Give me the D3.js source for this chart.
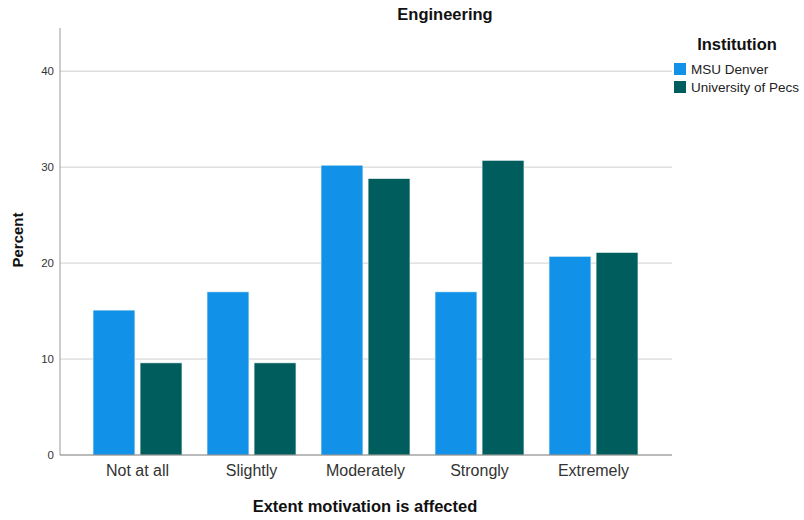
<!DOCTYPE html>
<html>
<head>
<meta charset="utf-8">
<script src="https://cdn.jsdelivr.net/npm/d3@7"></script>
<style>
  body { margin: 0; background: #fff; }
  svg { font-family: Arial, "Liberation Sans", sans-serif; }
</style>
</head>
<body>
<svg id="chart" width="804" height="520"></svg>
<script>
const categories = ["Not at all", "Slightly", "Moderately", "Strongly", "Extremely"];
const seriesNames = ["MSU Denver", "University of Pecs"];
const msuDenver = [15.1, 17.0, 30.2, 17.0, 20.7];
const univPecs = [9.6, 9.6, 28.8, 30.7, 21.1];
const yTicks = [0, 10, 20, 30, 40];
const colors = ["#1192e8", "#005d5d"];

const svg = d3.select("#chart");
const plotLeft = 60, plotRight = 672, plotTop = 28, plotBottom = 455;

const y = d3.scaleLinear().domain([0, 44.5]).range([plotBottom, plotTop]);
const x0 = d3.scaleBand().domain(categories).range([80.5, 650.5]).paddingInner(0.22).paddingOuter(0.11);
const x1 = d3.scaleBand().domain(seriesNames).range([0, x0.bandwidth()]).paddingInner(0.11);

// gridlines
svg.append("g").selectAll("line").data(yTicks.filter(d => d > 0)).join("line")
  .attr("x1", plotLeft).attr("x2", plotRight)
  .attr("y1", d => y(d)).attr("y2", d => y(d))
  .attr("stroke", "#cfcfcf").attr("stroke-width", 1);

// bars
const rows = categories.map((c, i) => ({ cat: c, vals: [msuDenver[i], univPecs[i]] }));
const groups = svg.append("g").selectAll("g").data(rows).join("g")
  .attr("transform", d => `translate(${x0(d.cat)},0)`);
groups.selectAll("rect").data(d => d.vals.map((v, j) => ({ name: seriesNames[j], v, j }))).join("rect")
  .attr("x", d => x1(d.name))
  .attr("width", x1.bandwidth())
  .attr("y", d => y(d.v))
  .attr("height", d => y(0) - y(d.v))
  .attr("fill", d => colors[d.j])
  .attr("stroke", "#e8f0f0").attr("stroke-width", 0.6);

// y axis
const yAxis = d3.axisLeft(y).tickValues(yTicks).tickSize(0).tickPadding(6);
const gy = svg.append("g").attr("transform", `translate(${plotLeft},0)`).call(yAxis);
gy.select(".domain").remove();
gy.selectAll("text").attr("font-size", 11.5).attr("fill", "#333")
  .attr("font-family", "Arial, 'Liberation Sans', sans-serif");
svg.append("line").attr("x1", plotLeft).attr("x2", plotLeft)
  .attr("y1", plotTop).attr("y2", plotBottom).attr("stroke", "#999");

// x axis
const xAxis = d3.axisBottom(x0).tickSize(0).tickPadding(10);
const gx = svg.append("g").attr("transform", `translate(0,${plotBottom})`).call(xAxis);
gx.select(".domain").remove();
gx.selectAll("text").attr("font-size", 16).attr("fill", "#333")
  .attr("font-family", "Arial, 'Liberation Sans', sans-serif");
svg.append("line").attr("x1", plotLeft).attr("x2", plotRight)
  .attr("y1", plotBottom).attr("y2", plotBottom).attr("stroke", "#777");

// titles
svg.append("text").attr("x", 445).attr("y", 20).attr("text-anchor", "middle")
  .attr("font-size", 16.5).attr("font-weight", "bold").attr("fill", "#111").text("Engineering");
svg.append("text").attr("x", 365).attr("y", 512).attr("text-anchor", "middle")
  .attr("font-size", 16.5).attr("font-weight", "bold").attr("fill", "#111").text("Extent motivation is affected");
svg.append("text").attr("transform", "translate(23,240) rotate(-90)").attr("text-anchor", "middle")
  .attr("font-size", 15).attr("font-weight", "bold").attr("fill", "#111").text("Percent");

// legend
const lg = svg.append("g");
lg.append("text").attr("x", 737).attr("y", 50).attr("text-anchor", "middle")
  .attr("font-size", 16.5).attr("font-weight", "bold").attr("fill", "#111").text("Institution");
const items = lg.selectAll("g.item").data(seriesNames).join("g")
  .attr("transform", (d, i) => `translate(674,${63 + i * 18})`);
items.append("rect").attr("width", 12).attr("height", 12).attr("fill", (d, i) => colors[i]);
items.append("text").attr("x", 17).attr("y", 11).attr("font-size", 13.5).attr("fill", "#222").text(d => d);
</script>
</body>
</html>
